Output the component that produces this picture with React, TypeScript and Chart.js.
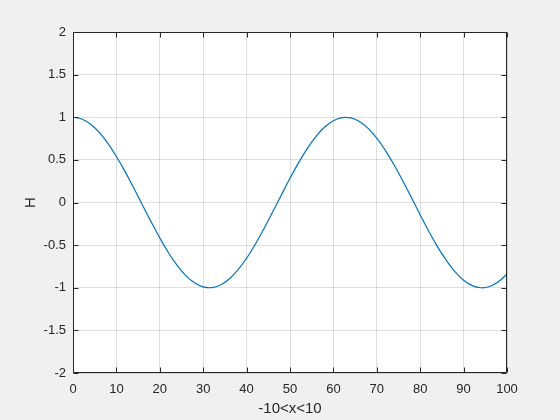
import React, { useEffect, useRef } from "react";
import { Chart, registerables } from "chart.js";

Chart.register(...registerables);

const xValues = [
  0, 2, 4, 6, 8, 10, 12, 14, 16, 18, 20, 22, 24, 26, 28, 30, 32, 34, 36, 38, 40,
  42, 44, 46, 48, 50, 52, 54, 56, 58, 60, 62, 64, 66, 68, 70, 72, 74, 76, 78, 80,
  82, 84, 86, 88, 90, 92, 94, 96, 98, 100,
];
const hValues = [
  1.0, 0.98, 0.921, 0.825, 0.697, 0.54, 0.362, 0.17, -0.029, -0.227, -0.416, -0.589,
  -0.737, -0.857, -0.942, -0.99, -0.998, -0.967, -0.897, -0.791, -0.654, -0.49,
  -0.307, -0.112, 0.087, 0.284, 0.468, 0.634, 0.776, 0.886, 0.96, 0.996, 0.993,
  0.951, 0.869, 0.754, 0.608, 0.439, 0.253, 0.056, -0.146, -0.34, -0.52, -0.677,
  -0.811, -0.911, -0.975, -1.0, -0.985, -0.93, -0.839,
];
const xTicks = [0, 10, 20, 30, 40, 50, 60, 70, 80, 90, 100];
const yTicks = [-2, -1.5, -1, -0.5, 0, 0.5, 1, 1.5, 2];
const xLabel = "-10<x<10";
const yLabel = "H";

const AXIS_COLOR = "#262626";
const FONT = "'Liberation Sans', Arial, Helvetica, sans-serif";

const framePlugin = {
  id: "matlabFrame",
  beforeDraw(chart: any) {
    const { ctx, chartArea } = chart;
    ctx.save();
    ctx.fillStyle = "#f0f0f0";
    ctx.fillRect(0, 0, chart.width, chart.height);
    ctx.fillStyle = "#ffffff";
    ctx.fillRect(
      chartArea.left,
      chartArea.top,
      chartArea.right - chartArea.left,
      chartArea.bottom - chartArea.top
    );
    ctx.restore();
  },
  afterDraw(chart: any) {
    const { ctx, chartArea, scales } = chart;
    const { left, right, top, bottom } = chartArea;
    const L = Math.round(left) + 0.5;
    const R = Math.round(right) - 0.5;
    const T = Math.round(top) + 0.5;
    const B = Math.round(bottom) - 0.5;
    ctx.save();
    ctx.strokeStyle = AXIS_COLOR;
    ctx.lineWidth = 1;
    ctx.beginPath();
    ctx.rect(L, T, R - L, B - T);
    const tl = 5;
    for (const v of xTicks) {
      const x = Math.round(scales.x.getPixelForValue(v)) + 0.5;
      ctx.moveTo(x, B);
      ctx.lineTo(x, B - tl);
      ctx.moveTo(x, T);
      ctx.lineTo(x, T + tl);
    }
    for (const v of yTicks) {
      const y = Math.round(scales.y.getPixelForValue(v)) + 0.5;
      ctx.moveTo(L, y);
      ctx.lineTo(L + tl, y);
      ctx.moveTo(R, y);
      ctx.lineTo(R - tl, y);
    }
    ctx.stroke();
    ctx.restore();
  },
};

export default function App() {
  const ref = useRef<HTMLCanvasElement | null>(null);

  useEffect(() => {
    if (!ref.current) return;
    const chart = new Chart(ref.current, {
      type: "line",
      data: {
        datasets: [
          {
            data: xValues.map((x, i) => ({ x, y: hValues[i] })),
            borderColor: "#0072BD",
            borderWidth: 1.2,
            pointRadius: 0,
            fill: false,
            tension: 0.4,
          },
        ],
      },
      options: {
        responsive: false,
        animation: false,
        events: [],
        layout: { padding: { left: 0, top: 32, right: 53, bottom: 0 } },
        plugins: {
          legend: { display: false },
          tooltip: { enabled: false },
        },
        scales: {
          x: {
            type: "linear",
            min: 0,
            max: 100,
            afterFit: (s: any) => {
              s.height = 47;
            },
            afterBuildTicks: (s: any) => {
              s.ticks = xTicks.map((v) => ({ value: v }));
            },
            border: { display: false },
            grid: {
              color: "rgba(38,38,38,0.15)",
              drawTicks: false,
              lineWidth: 1,
            },
            ticks: {
              color: AXIS_COLOR,
              font: { family: FONT, size: 13 },
              padding: 9,
              maxRotation: 0,
              autoSkip: false,
              callback: (v: any) => String(v),
            },
            title: {
              display: true,
              text: xLabel,
              color: AXIS_COLOR,
              font: { family: FONT, size: 15 },
              padding: { top: 0, bottom: 2 },
            },
          },
          y: {
            type: "linear",
            min: -2,
            max: 2,
            afterFit: (s: any) => {
              s.width = 73;
            },
            afterBuildTicks: (s: any) => {
              s.ticks = yTicks.map((v) => ({ value: v }));
            },
            border: { display: false },
            grid: {
              color: "rgba(38,38,38,0.15)",
              drawTicks: false,
              lineWidth: 1,
            },
            ticks: {
              color: AXIS_COLOR,
              font: { family: FONT, size: 13 },
              padding: 7,
              autoSkip: false,
              callback: (v: any) => String(v),
            },
            title: {
              display: true,
              text: yLabel,
              color: AXIS_COLOR,
              font: { family: FONT, size: 15 },
              padding: { top: 22, bottom: 0 },
            },
          },
        },
      },
      plugins: [framePlugin],
    });
    return () => chart.destroy();
  }, []);

  return (
    <div
      style={{
        position: "fixed",
        left: 0,
        top: 0,
        width: 560,
        height: 420,
        background: "#f0f0f0",
      }}
    >
      <canvas ref={ref} width={560} height={420} style={{ display: "block" }} />
    </div>
  );
}
